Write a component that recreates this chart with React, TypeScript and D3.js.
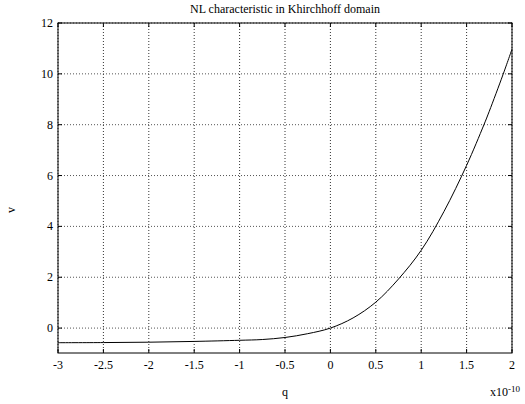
import React from "react";
import * as d3 from "d3";

// values (q in units of 1e-10)
const qValues = [-3, -2.5, -2, -1.5, -1, -0.75, -0.5, -0.25, 0, 0.25, 0.5, 0.75, 1, 1.25, 1.5, 1.69, 1.75, 1.9, 2];
const vValues = [-0.575, -0.57, -0.555, -0.525, -0.48, -0.45, -0.37, -0.22, 0, 0.4, 1.02, 1.93, 3.06, 4.58, 6.4, 7.99, 8.53, 9.96, 10.97];
const xTicks = [-3, -2.5, -2, -1.5, -1, -0.5, 0, 0.5, 1, 1.5, 2];
const yTicks = [0, 2, 4, 6, 8, 10, 12];

const W = 525;
const H = 404;
const margin = { top: 23, right: 13, bottom: 51, left: 58 };
const serif = "'Times New Roman', 'Liberation Serif', Times, serif";

const App = () => {
  const iw = W - margin.left - margin.right;
  const ih = H - margin.top - margin.bottom;
  const x = d3.scaleLinear().domain([-3, 2]).range([0, iw]);
  const y = d3.scaleLinear().domain([-0.98, 12]).range([ih, 0]);
  const pts = qValues.map((q, i) => [q, vValues[i]] as [number, number]);
  const line = d3
    .line<[number, number]>()
    .x((d) => x(d[0]))
    .y((d) => y(d[1]))
    .curve(d3.curveCatmullRom.alpha(0.5));

  return (
    <svg
      width={W}
      height={H}
      fontFamily={serif}
      fontSize={12}
      style={{ position: "absolute", left: 0, top: 0, background: "#fff" }}
    >
      <text x={285} y={13} textAnchor="middle">
        NL characteristic in Khirchhoff domain
      </text>
      <g transform={`translate(${margin.left},${margin.top})`}>
        {xTicks.map((t) => (
          <g key={"x" + t}>
            <line x1={x(t)} x2={x(t)} y1={0} y2={ih} stroke="#333" strokeDasharray="1,2" />
            <line x1={x(t)} x2={x(t)} y1={ih} y2={ih - 4} stroke="#000" />
            <line x1={x(t)} x2={x(t)} y1={0} y2={4} stroke="#000" />
            <text x={x(t)} y={ih + 16} textAnchor="middle">
              {t}
            </text>
          </g>
        ))}
        {yTicks.map((t) => (
          <g key={"y" + t}>
            <line x1={0} x2={iw} y1={y(t)} y2={y(t)} stroke="#555" strokeDasharray="1,2" />
            <line x1={0} x2={4} y1={y(t)} y2={y(t)} stroke="#000" />
            <line x1={iw} x2={iw - 4} y1={y(t)} y2={y(t)} stroke="#000" />
            <text x={-5} y={y(t) + 4} textAnchor="end">
              {t}
            </text>
          </g>
        ))}
        <rect x={0} y={0} width={iw} height={ih} fill="none" stroke="#000" />
        <path d={line(pts) || ""} fill="none" stroke="#000" strokeWidth={1} />
      </g>
      <text x={285} y={396} textAnchor="middle">
        q
      </text>
      <text x={12} y={213} textAnchor="middle" transform="rotate(-90,12,210)">
        v
      </text>
      <text x={490} y={396}>
        x10
        <tspan fontSize={9} dy={-4}>
          -10
        </tspan>
      </text>
    </svg>
  );
};

export default App;
